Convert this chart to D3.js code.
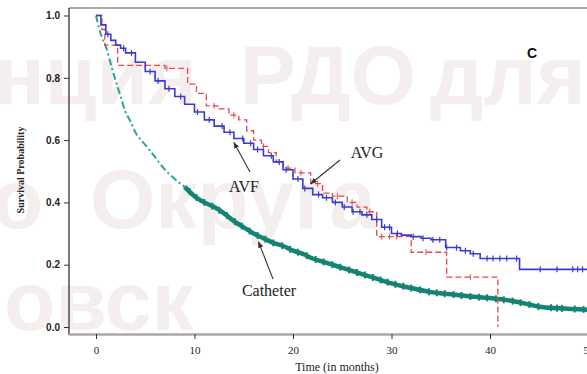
<!DOCTYPE html>
<html><head><meta charset="utf-8">
<script src="https://cdn.jsdelivr.net/npm/d3@7"></script>
<style>html,body{margin:0;padding:0;background:#fff;overflow:hidden}</style>
</head><body><svg id="c" width="587" height="374"></svg>
<script>
// ---- data ----
const xTicks = [0, 10, 20, 30, 40, 50];
const yTicks = [0.0, 0.2, 0.4, 0.6, 0.8, 1.0];

const avfTime = [0,0.5,1,1.5,2,2.5,3,4,5,6,7,8,9,10,11,12,13,14,15,16,17,18,19,20,21,22,23,24,25,26,27,28,29,30,31,32,33,34,35.5,37,38,39,43,50.5];
const avfSurv = [1,0.97,0.94,0.92,0.905,0.895,0.88,0.85,0.82,0.79,0.765,0.74,0.715,0.69,0.665,0.645,0.625,0.605,0.59,0.57,0.55,0.53,0.505,0.475,0.445,0.425,0.415,0.4,0.385,0.37,0.36,0.345,0.32,0.3,0.295,0.29,0.285,0.28,0.255,0.245,0.235,0.22,0.185,0.185];
const avfCensor = [1.2,2.8,3.6,5.5,6.3,7.4,8.6,10.3,11.5,12.8,13.6,14.9,15.7,16.4,17.8,18.6,19.3,20.5,21.2,22.6,23.4,24.3,25.2,26.1,26.8,27.5,28.5,29.3,29.8,30.6,32.2,33.2,34.2,34.9,35.6,36.6,37.5,38.3,39.7,40.3,41.0,41.7,42.7,45.1,46.8,48.4,48.9,49.4];

const avgTime = [0,0.6,0.9,2.2,7.0,9.3,10.2,11.2,12.5,13.5,14.5,15.3,16.0,16.8,17.5,18.3,19.0,20.2,21.8,23.0,24.0,25.5,26.5,27.5,28.5,32.0,35.6,40.8];
const avgSurv = [1,0.955,0.905,0.84,0.83,0.78,0.75,0.71,0.70,0.68,0.665,0.63,0.60,0.58,0.56,0.53,0.51,0.495,0.46,0.43,0.42,0.40,0.385,0.37,0.29,0.24,0.16,0.0];
const avgCensor = [5.0,7.2,12.0,14.0,17.0,19.5,20.8,22.5,24.5,26.0,27.8,29.0,29.8,30.5,33.5,38.0];

const cathTime = [0,0.3,0.6,1.0,1.5,2.0,2.5,3.0,3.5,4.0,5.0,6.0,7.0,8.0,9.0,10,11,12,13,14,15,16,17,18,19,20,21,22,23,24,25,26,27,28,29,30,32,34,36,38,40,42,44,45,47,50.5];
const cathSurv = [1,0.96,0.93,0.9,0.845,0.79,0.74,0.69,0.66,0.625,0.585,0.545,0.505,0.475,0.45,0.42,0.40,0.385,0.365,0.34,0.32,0.30,0.285,0.27,0.26,0.245,0.235,0.22,0.21,0.2,0.19,0.18,0.17,0.16,0.15,0.14,0.125,0.112,0.105,0.098,0.093,0.085,0.072,0.065,0.06,0.055];
const cathCensor = [9.5,10.2,11.0,11.8,12.5,13.3,14.1,14.8,15.6,16.4,17.2,18.0,18.9,19.7,20.5,21.4,22.3,23.1,24.0,24.8,25.7,26.5,27.3,28.1,28.9,29.6,30.4,31.2,32.0,32.9,33.8,34.6,35.4,36.3,37.1,38.0,38.9,39.7,40.6,41.4,42.3,43.1,44.0,44.9,46.2,46.8,47.3,48.6,49.5];
const cathSplit = 9;

const groupNames = ["AVF", "AVG", "Catheter"];
const panelLabel = "C";
const xTitle = "Time (in months)";
const yTitle = "Survival Probability";
const watermarkWords = ["нция", "РДО", "для", "о", "Округа", "овск"];

// ---- drawing ----
const svg = d3.select("#c");
const x = d3.scaleLinear().domain([0, 50]).range([96, 588.5]);
const y = d3.scaleLinear().domain([0, 1]).range([327, 15.5]);

// watermark
const wm = svg.append("g").attr("fill", "#f5eeee")
  .attr("font-family", "Liberation Sans, Arial, sans-serif").attr("font-weight", "bold").attr("font-size", 84);
const wmPos = [[-6,104],[240,104],[430,104],[-8,228],[90,228],[4,330]];
watermarkWords.forEach((w,i)=>wm.append("text").attr("x", wmPos[i][0]).attr("y", wmPos[i][1]).text(w));

// frame
svg.append("line").attr("x1",69).attr("x2",587).attr("y1",8).attr("y2",8).attr("stroke","#aaa").attr("stroke-width",2);
svg.append("line").attr("x1",69).attr("x2",69).attr("y1",8).attr("y2",335).attr("stroke","#222").attr("stroke-width",1.2);
svg.append("line").attr("x1",69).attr("x2",587).attr("y1",334.5).attr("y2",334.5).attr("stroke","#a8a8a8").attr("stroke-width",2.5);

const ya = svg.append("g").attr("transform","translate(69,0)")
  .call(d3.axisLeft(y).tickValues(yTicks).tickSize(5).tickPadding(4).tickFormat(d3.format(".1f")));
ya.select(".domain").remove();
ya.selectAll("text").attr("font-family","Liberation Sans, Arial, sans-serif").attr("font-weight","bold").attr("font-size",10).attr("fill","#222");
ya.selectAll("line").attr("stroke","#333");

const xa = svg.append("g").attr("transform","translate(0,334)")
  .call(d3.axisBottom(x).tickValues(xTicks).tickSize(5).tickPadding(7).tickFormat(d3.format("d")));
xa.select(".domain").remove();
xa.selectAll("text").attr("font-family","Liberation Serif, Times New Roman, serif").attr("font-size",11).attr("fill","#222");
xa.selectAll("line").attr("stroke","#333");

svg.append("text").attr("x",337).attr("y",371).attr("text-anchor","middle")
  .attr("font-family","Liberation Serif, Times New Roman, serif").attr("font-size",12).attr("fill","#222").text(xTitle);
svg.append("text").attr("transform","translate(24,170) rotate(-90)").attr("text-anchor","middle")
  .attr("font-family","Liberation Serif, Times New Roman, serif").attr("font-weight","bold").attr("font-size",10).attr("fill","#222").text(yTitle);
svg.append("text").attr("x",532).attr("y",58).attr("text-anchor","middle")
  .attr("font-family","Liberation Sans, Arial, sans-serif").attr("font-weight","bold").attr("font-size",14).attr("fill","#111").text(panelLabel);

// curves
const clip = svg.append("defs").append("clipPath").attr("id","pc").append("rect")
  .attr("x",70).attr("y",9).attr("width",520).attr("height",324);
const plot = svg.append("g").attr("clip-path","url(#pc)");

function pts(t, s){ return t.map((d,i)=>[d, s[i]]); }
function stepAt(t, s, v){ let r = s[0]; for(let i=0;i<t.length;i++){ if(t[i] <= v) r = s[i]; } return r; }
function linAt(t, s, v){ for(let i=1;i<t.length;i++){ if(t[i] >= v){ const f=(v-t[i-1])/(t[i]-t[i-1]); return s[i-1]+f*(s[i]-s[i-1]); } } return s[s.length-1]; }

const stepLine = d3.line().x(d=>x(d[0])).y(d=>y(d[1])).curve(d3.curveStepAfter);
const smoothLine = d3.line().x(d=>x(d[0])).y(d=>y(d[1])).curve(d3.curveMonotoneX);

const cColor = "#138473", cLight = "#2aa396", bColor = "#3a3ad0", rColor = "#e5484d";

// catheter
const cp = pts(cathTime, cathSurv);
plot.append("path").datum(cp.filter(d=>d[0] <= cathSplit)).attr("d", smoothLine)
  .attr("fill","none").attr("stroke",cLight).attr("stroke-width",2).attr("stroke-dasharray","7,3,2,3");
plot.append("path").datum(cp.filter(d=>d[0] >= cathSplit)).attr("d", smoothLine)
  .attr("fill","none").attr("stroke",cColor).attr("stroke-width",4.5);
plot.append("g").selectAll("line").data(cathCensor).join("line")
  .attr("x1",d=>x(d)).attr("x2",d=>x(d)).attr("y1",d=>y(linAt(cathTime,cathSurv,d))-3.5).attr("y2",d=>y(linAt(cathTime,cathSurv,d))+3.5)
  .attr("stroke",cColor).attr("stroke-width",2);

// AVG
plot.append("path").datum(pts(avgTime, avgSurv)).attr("d", stepLine)
  .attr("fill","none").attr("stroke",rColor).attr("stroke-width",1.3).attr("stroke-dasharray","6,3");
plot.append("g").selectAll("line").data(avgCensor).join("line")
  .attr("x1",d=>x(d)).attr("x2",d=>x(d)).attr("y1",d=>y(stepAt(avgTime,avgSurv,d))-3).attr("y2",d=>y(stepAt(avgTime,avgSurv,d))+3)
  .attr("stroke",rColor).attr("stroke-width",1);

// AVF
plot.append("path").datum(pts(avfTime, avfSurv)).attr("d", stepLine)
  .attr("fill","none").attr("stroke",bColor).attr("stroke-width",1.6);
plot.append("g").selectAll("line").data(avfCensor).join("line")
  .attr("x1",d=>x(d)).attr("x2",d=>x(d)).attr("y1",d=>y(stepAt(avfTime,avfSurv,d))-3).attr("y2",d=>y(stepAt(avfTime,avfSurv,d))+3)
  .attr("stroke",bColor).attr("stroke-width",1.2);

// annotations
svg.append("defs").append("marker").attr("id","ah").attr("viewBox","0 0 10 10").attr("refX",9).attr("refY",5)
  .attr("markerWidth",6).attr("markerHeight",6).attr("orient","auto")
  .append("path").attr("d","M0,1 L10,5 L0,9 Z").attr("fill","#333");
const ann = [
  {name: groupNames[0], tx:244, ty:192, x1:250, y1:172, t:14.0},
  {name: groupNames[1], tx:367, ty:158, x1:340, y1:160, t:21.8},
  {name: groupNames[2], tx:269, ty:296, x1:273, y1:279, t:16.5}
];
const series = {AVF:[avfTime,avfSurv,stepAt,0], AVG:[avgTime,avgSurv,stepAt,0], Catheter:[cathTime,cathSurv,linAt,-5]};
ann.forEach(a=>{
  const s = series[a.name];
  const tx = x(a.t), ty = y(s[2](s[0], s[1], a.t)) + (a.name==="AVF"? 4 : a.name==="AVG" ? 0 : 6);
  svg.append("line").attr("x1",a.x1).attr("y1",a.y1).attr("x2",tx).attr("y2",ty)
    .attr("stroke","#333").attr("stroke-width",1.1).attr("marker-end","url(#ah)");
  svg.append("text").attr("x",a.tx).attr("y",a.ty).attr("text-anchor","middle")
    .attr("font-family","Liberation Serif, Times New Roman, serif").attr("font-size",16).attr("fill","#222").text(a.name);
});
</script></body></html>
